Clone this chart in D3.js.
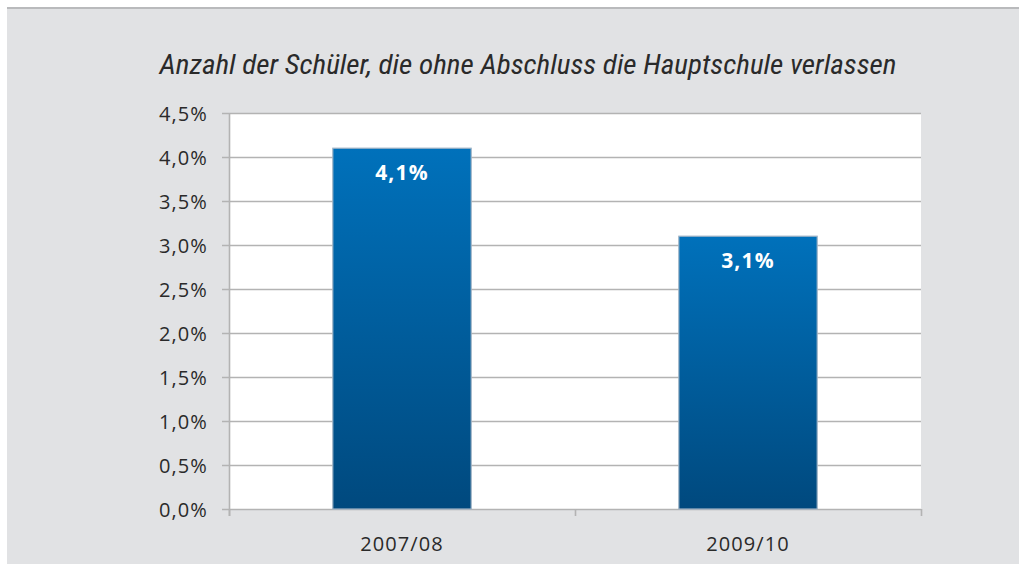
<!DOCTYPE html>
<html><head><meta charset="utf-8">
<script src="https://cdn.jsdelivr.net/npm/d3@7"></script>
<style>
html,body{margin:0;padding:0;background:#fff;}
svg{display:block;}
</style></head>
<body>
<svg id="chart" width="1019" height="564"></svg>
<script>
const categories = ["2007/08", "2009/10"];
const values = [4.1, 3.1];
const valueLabels = ["4,1%", "3,1%"];
const yTicks = [0, 0.5, 1.0, 1.5, 2.0, 2.5, 3.0, 3.5, 4.0, 4.5];
const yTickLabels = ["0,0%", "0,5%", "1,0%", "1,5%", "2,0%", "2,5%", "3,0%", "3,5%", "4,0%", "4,5%"];
const title = "Anzahl der Schüler, die ohne Abschluss die Hauptschule verlassen";

const svg = d3.select("#chart");
const W = 1019, H = 564;
const plot = {left: 229, right: 921, top: 113, bottom: 509};

// panel background
svg.append("rect").attr("x", 7).attr("y", 7).attr("width", W - 7).attr("height", H - 7).attr("fill", "#e1e2e4");
svg.append("rect").attr("x", 7).attr("y", 7).attr("width", W - 7).attr("height", 2).attr("fill", "#b9babc");

// title
svg.append("text").attr("x", 528).attr("y", 74)
  .attr("text-anchor", "middle")
  .attr("font-family", "'Liberation Sans Narrow', 'Roboto Condensed', 'Roboto', sans-serif")
  .attr("font-style", "italic").attr("font-size", 27.5).attr("fill", "#2a2a2a")
  .attr("textLength", 737).attr("lengthAdjust", "spacingAndGlyphs")
  .text(title);

const x = d3.scaleBand().domain(categories).range([plot.left, plot.right]).paddingInner(0.6).paddingOuter(0.3);
const xFull = d3.scaleBand().domain(categories).range([plot.left, plot.right]).padding(0);
const y = d3.scaleLinear().domain([0, 4.5]).range([plot.bottom, plot.top]);

// plot area
svg.append("rect").attr("x", plot.left).attr("y", plot.top).attr("width", plot.right - plot.left).attr("height", plot.bottom - plot.top).attr("fill", "#ffffff");

// gridlines
svg.append("g").selectAll("line").data(yTicks).join("line")
  .attr("x1", plot.left - 7).attr("x2", plot.right)
  .attr("y1", d => Math.round(y(d)) + 0.5).attr("y2", d => Math.round(y(d)) + 0.5)
  .attr("stroke", "#b3b3b3").attr("stroke-width", 1.6);

// y axis line
svg.append("line").attr("x1", plot.left + 0.5).attr("x2", plot.left + 0.5)
  .attr("y1", plot.top).attr("y2", plot.bottom + 7).attr("stroke", "#b3b3b3").attr("stroke-width", 1.6);

// x ticks at band boundaries
const xBounds = categories.map(c => xFull(c)).concat([plot.right]);
svg.append("g").selectAll("line").data(xBounds).join("line")
  .attr("x1", d => d + 0.5).attr("x2", d => d + 0.5)
  .attr("y1", plot.bottom).attr("y2", plot.bottom + 7)
  .attr("stroke", "#b3b3b3").attr("stroke-width", 1.6);

// y tick labels
svg.append("g").selectAll("text").data(yTicks).join("text")
  .attr("x", 208).attr("y", d => y(d) + 8)
  .attr("text-anchor", "end")
  .attr("font-family", "'Open Sans', 'DejaVu Sans', sans-serif").attr("font-size", 20)
  .attr("letter-spacing", 1.1).attr("fill", "#2a2a2a")
  .text((d, i) => yTickLabels[i]);

// x labels
svg.append("g").selectAll("text").data(categories).join("text")
  .attr("x", d => xFull(d) + xFull.bandwidth() / 2).attr("y", 551)
  .attr("text-anchor", "middle")
  .attr("font-family", "'Open Sans', 'DejaVu Sans', sans-serif").attr("font-size", 20)
  .attr("letter-spacing", 1.1).attr("fill", "#2a2a2a")
  .text(d => d);

// gradient
const defs = svg.append("defs");
const grad = defs.append("linearGradient").attr("id", "barGrad").attr("x1", 0).attr("y1", 0).attr("x2", 0).attr("y2", 1);
grad.append("stop").attr("offset", "0%").attr("stop-color", "#0071bb");
grad.append("stop").attr("offset", "100%").attr("stop-color", "#00497e");

// bars
svg.append("g").selectAll("rect").data(values).join("rect")
  .attr("x", (d, i) => x(categories[i]))
  .attr("y", d => y(d))
  .attr("width", x.bandwidth())
  .attr("height", d => plot.bottom - y(d))
  .attr("fill", "url(#barGrad)")
  .attr("stroke", "#9fb3c6").attr("stroke-width", 1.2);

// value labels
svg.append("g").selectAll("text").data(values).join("text")
  .attr("x", (d, i) => x(categories[i]) + x.bandwidth() / 2)
  .attr("y", d => y(d) + 32)
  .attr("text-anchor", "middle")
  .attr("font-family", "'Open Sans', 'DejaVu Sans', sans-serif").attr("font-weight", "bold")
  .attr("font-size", 21).attr("letter-spacing", 1.2).attr("fill", "#ffffff")
  .text((d, i) => valueLabels[i]);
</script>
</body></html>
